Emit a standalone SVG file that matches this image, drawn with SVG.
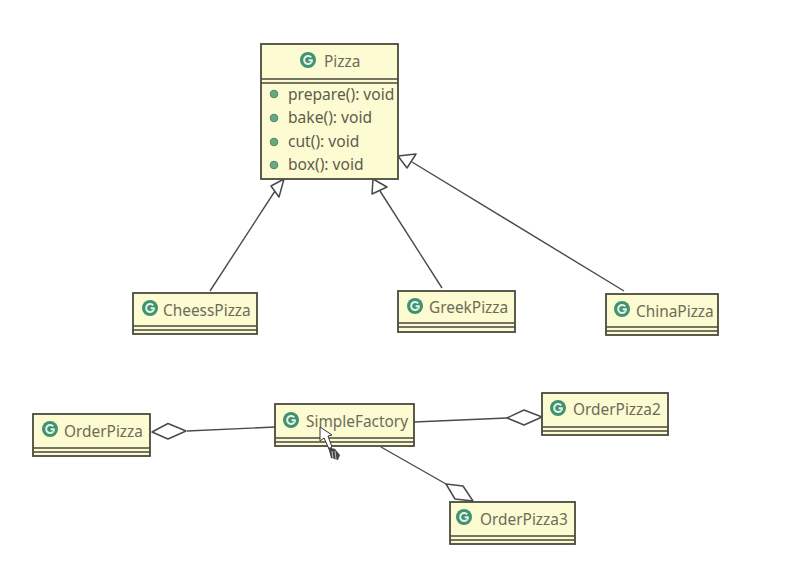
<svg xmlns="http://www.w3.org/2000/svg" width="790" height="585" viewBox="0 0 790 585">
<defs>
<style>
.box{fill:#fdfbd2;stroke:#4a4a3e;stroke-width:1.8}
.sep{stroke:#4a4a3e;stroke-width:1.5;fill:none}
.t{font-family:"Noto Sans","Open Sans",sans-serif;font-size:15.4px;fill:#6b6b58}
.m{font-family:"Noto Sans","Open Sans",sans-serif;font-size:15.6px;fill:#5c5c4c}
.ci{fill:#3f9370}
.g{fill:none;stroke:#e6f2e6;stroke-width:2}
.dot{fill:#6aa884;stroke:#4c8a68;stroke-width:1}
.c{fill:none;stroke:#4a4a48;stroke-width:1.4}
.h{fill:#fff;stroke:#4a4a48;stroke-width:1.5;stroke-linejoin:round}
</style>
<g id="cicon"><circle r="8" class="ci"/><path class="g" d="M3.200,-2.600A4,4 0 1 0 3.200,2.600M0.600,0.300H3.800V2.600"/></g>
</defs>
<rect width="790" height="585" fill="#fff"/>
<g id="connectors">
<path class="c" d="M210,291L275,191"/>
<path class="h" d="M284,179L271,186L279,197Z"/>
<path class="c" d="M442,288L380,191"/>
<path class="h" d="M373,179L372,194L387,187Z"/>
<path class="c" d="M624,291L412,162"/>
<path class="h" d="M398,156L407,168L416,154Z"/>
<path class="c" d="M187,431L275,427"/>
<path class="h" d="M152,432L168,423.500L186,431L168,439Z"/>
<path class="c" d="M414,422L507,418"/>
<path class="h" d="M542,417L524,410L507,418L524,425Z"/>
<path class="c" d="M381,447L446,484"/>
<path class="h" d="M446,484L463,486L473,501L455,499Z"/>
</g>
<g id="Pizza">
<rect class="box" x="261" y="44" width="137" height="135"/>
<path class="sep" d="M261,79H398M261,83H398"/>
<use href="#cicon" x="308" y="60"/>
<text class="t" x="324" y="67">Pizza</text>
<circle class="dot" cx="274" cy="94" r="3.800"/>
<text class="m" x="288" y="100">prepare(): void</text>
<circle class="dot" cx="274" cy="118" r="3.800"/>
<text class="m" x="288" y="123">bake(): void</text>
<circle class="dot" cx="274" cy="142" r="3.800"/>
<text class="m" x="288" y="147">cut(): void</text>
<circle class="dot" cx="274" cy="165" r="3.800"/>
<text class="m" x="288" y="170">box(): void</text>
</g>
<g id="CheessPizza">
<rect class="box" x="133" y="293" width="124" height="41"/>
<path class="sep" d="M133,326H257M133,330H257"/>
<use href="#cicon" x="150" y="308"/>
<text class="t" x="163" y="316">CheessPizza</text>
</g>
<g id="GreekPizza">
<rect class="box" x="398" y="291" width="117" height="41"/>
<path class="sep" d="M398,323H515M398,327H515"/>
<use href="#cicon" x="415" y="306"/>
<text class="t" x="429" y="313">GreekPizza</text>
</g>
<g id="ChinaPizza">
<rect class="box" x="606" y="294" width="112" height="41"/>
<path class="sep" d="M606,327H718M606,331H718"/>
<use href="#cicon" x="622" y="309"/>
<text class="t" x="636" y="317">ChinaPizza</text>
</g>
<g id="OrderPizza">
<rect class="box" x="33" y="414" width="117" height="42"/>
<path class="sep" d="M33,448H150M33,452H150"/>
<use href="#cicon" x="50" y="429"/>
<text class="t" x="64" y="437">OrderPizza</text>
</g>
<g id="SimpleFactory">
<rect class="box" x="275" y="404" width="139" height="42"/>
<path class="sep" d="M275,438H414M275,442H414"/>
<use href="#cicon" x="291" y="420"/>
<text class="t" x="306" y="427">SimpleFactory</text>
</g>
<g id="OrderPizza2">
<rect class="box" x="542" y="393" width="126" height="42"/>
<path class="sep" d="M542,427H668M542,431H668"/>
<use href="#cicon" x="558" y="408"/>
<text class="t" x="573" y="415">OrderPizza2</text>
</g>
<g id="OrderPizza3">
<rect class="box" x="450" y="502" width="125" height="42"/>
<path class="sep" d="M450,536H575M450,540H575"/>
<use href="#cicon" x="464" y="517"/>
<text class="t" x="480" y="525">OrderPizza3</text>
</g>
<g id="cursor">
<path d="M320,427L320,441L324,438L329,449L332,447L328,436L332,435Z" fill="#fff" stroke="#333" stroke-width="1"/>
<path d="M328,447L335,449L340,455L338,460L331,458Z" fill="#444"/>
<path d="M332,451L333,459M335,451L336,459" stroke="#ddd" stroke-width="0.800" fill="none"/>
</g>
</svg>
